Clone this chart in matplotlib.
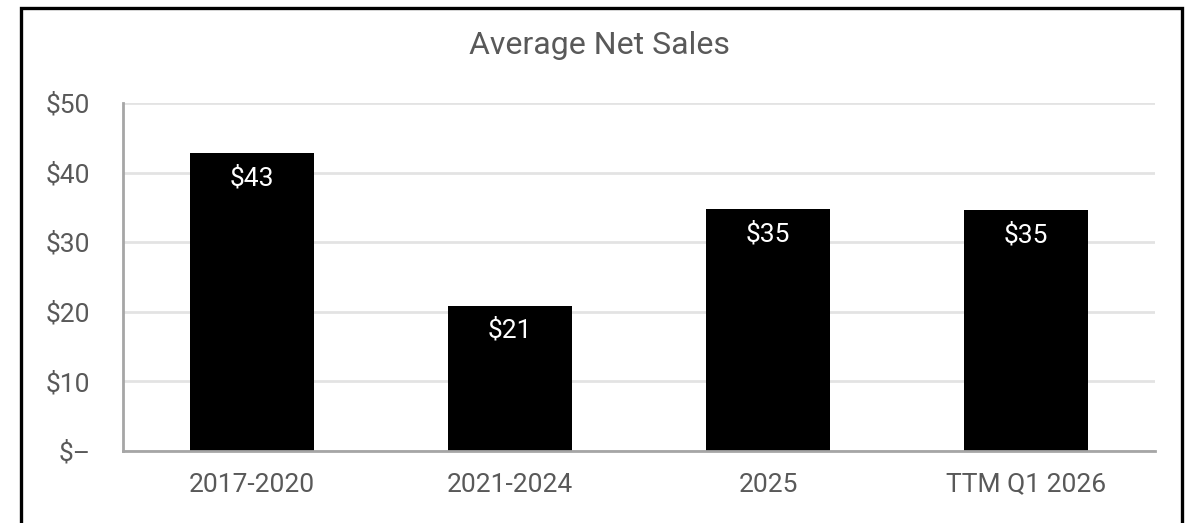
import matplotlib
matplotlib.use("Agg")
import matplotlib.pyplot as plt
from matplotlib.patches import Rectangle

# Data
categories = ["2017-2020", "2021-2024", "2025", "TTM Q1 2026"]
net_sales = [42.8, 20.9, 34.8, 34.6]
y_ticks = [0, 10, 20, 30, 40, 50]
y_tick_labels = ["$\u2013", "$10", "$20", "$30", "$40", "$50"]
title = "Average Net Sales"

TEXT = "#595959"
GRID = "#e3e3e3"
SPINE = "#a6a6a6"

plt.rcParams["font.family"] = ["Roboto", "DejaVu Sans"]

W, H, DPI = 1187, 523, 100
fig = plt.figure(figsize=(W / DPI, H / DPI), dpi=DPI)
ax = fig.add_axes([123 / W, 1 - 451 / H, (1155 - 123) / W, (451 - 103) / H])

x = range(len(categories))
bars = ax.bar(x, net_sales, width=0.48, color="black", zorder=3)

ax.set_xlim(-0.5, len(categories) - 0.5)
ax.set_ylim(0, 50)
ax.set_yticks(y_ticks)
ax.set_yticklabels(y_tick_labels)
ax.set_xticks(list(x))
ax.set_xticklabels(categories)
ax.tick_params(axis="y", length=0, pad=23.5, labelsize=19, labelcolor=TEXT)
ax.tick_params(axis="x", length=0, pad=15.5, labelsize=19, labelcolor=TEXT)

ax.yaxis.grid(True, color=GRID, linewidth=2, zorder=0)
ax.set_axisbelow(True)
for side in ("top", "right"):
    ax.spines[side].set_visible(False)
for side in ("left", "bottom"):
    ax.spines[side].set_color(SPINE)
    ax.spines[side].set_linewidth(2)
    ax.spines[side].set_zorder(4)

# Value labels inside the top of each bar
for rect, v in zip(bars, net_sales):
    label = f"${int(v + 0.5)}"
    ax.annotate(label, (rect.get_x() + rect.get_width() / 2, v),
                xytext=(0, -25), textcoords="offset pixels",
                ha="center", va="center", color="white", fontsize=19,
                zorder=5)

fig.text(600 / W, 1 - 45 / H, title,
         ha="center", va="center", color=TEXT, fontsize=23)

# Frame around the chart area
fig.patches.append(Rectangle((21 / W, -0.1), (1181.5 - 21) / W, 1.1 - 7.5 / H,
                             transform=fig.transFigure, fill=False,
                             edgecolor="black", linewidth=2.4, zorder=10))

fig.savefig("out.png", dpi=DPI)
